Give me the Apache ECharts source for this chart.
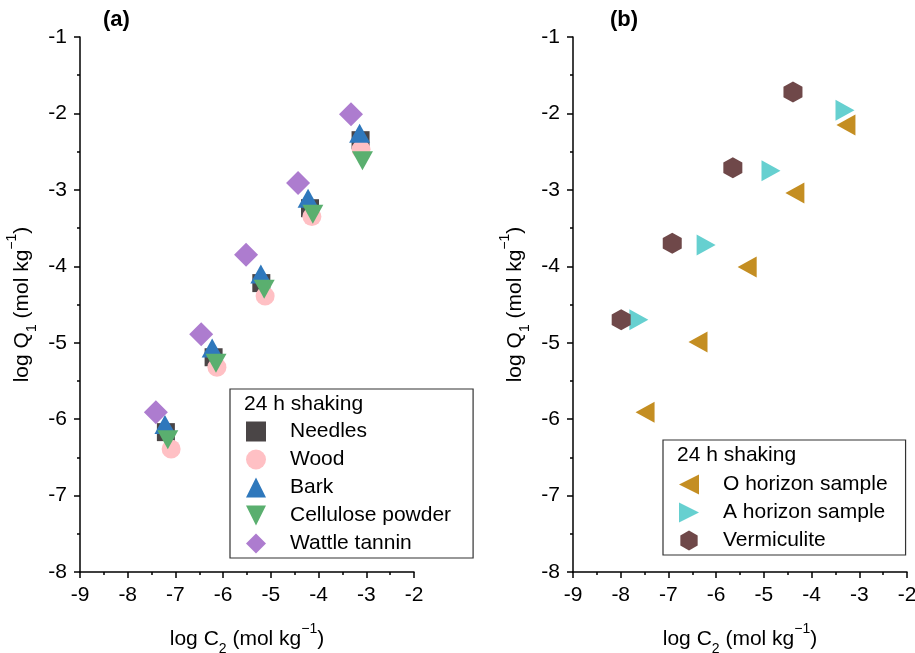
<!DOCTYPE html>
<html>
<head>
<meta charset="utf-8">
<script src="https://cdn.jsdelivr.net/npm/echarts@6/dist/echarts.min.js"></script>
<style>
  html, body { margin: 0; padding: 0; background: #fff; }
  #chart { width: 915px; height: 653px; }
</style>
</head>
<body>
<div id="chart"></div>
<script>
// panel (a): log C2 / log Q1 pairs
const needles = [[-7.2, -6.17], [-6.2, -5.19], [-5.2, -4.22], [-4.18, -3.24], [-3.12, -2.35]]
const wood = [[-7.09, -6.39], [-6.13, -5.32], [-5.12, -4.39], [-4.14, -3.35], [-3.11, -2.47]]
const bark = [[-7.22, -6.07], [-6.23, -5.07], [-5.21, -4.1], [-4.22, -3.11], [-3.14, -2.26]]
const cellulose = [[-7.16, -6.27], [-6.15, -5.27], [-5.14, -4.3], [-4.12, -3.32], [-3.08, -2.62]]
const wattle = [[-7.41, -5.91], [-6.46, -4.89], [-5.52, -3.85], [-4.43, -2.91], [-3.32, -2.01]]

// panel (b)
const oHorizon = [[-7.49, -5.91], [-6.38, -4.99], [-5.35, -4.01], [-4.35, -3.04], [-3.28, -2.15]]
const aHorizon = [[-7.62, -4.7], [-6.21, -3.72], [-4.85, -2.75], [-3.3, -1.96]]
const vermiculite = [[-7.99, -4.7], [-6.92, -3.7], [-5.65, -2.71], [-4.39, -1.72]]

const xTicks = { min: -9, max: -2, interval: 1 }
const yTicks = { min: -8, max: -1, interval: 1 }

const FONT = 'Liberation Sans'
const FS = 21
const hexagon = 'path://M0,-10 L8.66,-5 L8.66,5 L0,10 L-8.66,5 L-8.66,-5 Z'
const triDown = 'path://M-1,-1 L1,-1 L0,1 Z'
const triLeft = 'path://M-1,0 L1,-1 L1,1 Z'
const triRight = 'path://M1,0 L-1,-1 L-1,1 Z'

const richName = {
  n: { fontSize: FS, fontFamily: FONT, color: '#000', lineHeight: 28, verticalAlign: 'middle' },
  sub: { fontSize: 14, fontFamily: FONT, color: '#000', lineHeight: 28, verticalAlign: 'bottom', padding: [0, 0, -3, 0] },
  sup: { fontSize: 14, fontFamily: FONT, color: '#000', lineHeight: 28, verticalAlign: 'top', padding: [-3, 0, 0, 0] }
}

function xAxisFor(gridIndex) {
  return {
    gridIndex,
    type: 'value',
    min: xTicks.min,
    max: xTicks.max,
    interval: xTicks.interval,
    name: '{n|log C}{sub|2}{n| (mol kg}{sup|−1}{n|)}',
    nameLocation: 'middle',
    nameGap: 53,
    nameTextStyle: { rich: richName },
    axisLine: { onZero: false, lineStyle: { color: '#000', width: 1.5 } },
    axisTick: { inside: false, length: 6, lineStyle: { color: '#000', width: 1.5 } },
    minorTick: { show: true, splitNumber: 2, length: 3, lineStyle: { color: '#000', width: 1.5 } },
    axisLabel: { color: '#000', fontSize: FS, fontFamily: FONT, margin: 13 },
    splitLine: { show: false }
  }
}

function yAxisFor(gridIndex) {
  return {
    gridIndex,
    type: 'value',
    min: yTicks.min,
    max: yTicks.max,
    interval: yTicks.interval,
    name: '{n|log Q}{sub|1}{n| (mol kg}{sup|−1}{n|)}',
    nameLocation: 'middle',
    nameRotate: 90,
    nameGap: 44,
    nameTextStyle: { rich: richName },
    axisLine: { onZero: false, lineStyle: { color: '#000', width: 1.5 } },
    axisTick: { inside: false, length: 6, lineStyle: { color: '#000', width: 1.5 } },
    minorTick: { show: true, splitNumber: 2, length: 3, lineStyle: { color: '#000', width: 1.5 } },
    axisLabel: { color: '#000', fontSize: FS, fontFamily: FONT, margin: 13 },
    splitLine: { show: false }
  }
}

function scatter(name, data, idx, symbol, size, color) {
  return {
    name,
    type: 'scatter',
    xAxisIndex: idx,
    yAxisIndex: idx,
    data,
    symbol,
    symbolSize: size,
    itemStyle: { color, opacity: 1 },
    emphasis: { disabled: true }
  }
}

const legendBase = {
  orient: 'vertical',
  itemWidth: 20,
  itemHeight: 20,
  itemGap: 7,
  borderColor: '#333',
  borderWidth: 1.2,
  borderRadius: 0,
  textStyle: { fontSize: FS, fontFamily: FONT, color: '#000', padding: [0, 0, 0, 19] },
  selectedMode: false
}

const chart = echarts.init(document.getElementById('chart'), null, { renderer: 'canvas' })
chart.setOption({
  backgroundColor: '#fff',
  animation: false,
  grid: [
    { left: 80, top: 37, width: 334, height: 535, outerBoundsMode: 'none', containLabel: false },
    { left: 573, top: 37, width: 334, height: 535, outerBoundsMode: 'none', containLabel: false }
  ],
  xAxis: [xAxisFor(0), xAxisFor(1)],
  yAxis: [yAxisFor(0), yAxisFor(1)],
  legend: [
    Object.assign({}, legendBase, {
      data: ['Needles', 'Wood', 'Bark', 'Cellulose powder', 'Wattle tannin'],
      left: 230, top: 389,
      padding: [32, 22, 4, 16]
    }),
    Object.assign({}, legendBase, {
      data: ['O horizon sample', 'A horizon sample', 'Vermiculite'],
      left: 663, top: 440,
      padding: [34, 18, 4, 16]
    })
  ],
  graphic: [
    { type: 'text', left: 103, top: 9, style: { text: '(a)', fontSize: 22, fontWeight: 'bold', fontFamily: FONT, fill: '#000' } },
    { type: 'text', left: 610, top: 9, style: { text: '(b)', fontSize: 22, fontWeight: 'bold', fontFamily: FONT, fill: '#000' } },
    { type: 'text', left: 244, top: 394, style: { text: '24 h shaking', fontSize: FS, fontFamily: FONT, fill: '#000' } },
    { type: 'text', left: 677, top: 445, style: { text: '24 h shaking', fontSize: FS, fontFamily: FONT, fill: '#000' } }
  ],
  series: [
    scatter('Needles', needles, 0, 'rect', 18, '#4a4546'),
    scatter('Wood', wood, 0, 'circle', 19, '#ffc0c4'),
    scatter('Bark', bark, 0, 'triangle', [21, 19], '#2f78bc'),
    scatter('Cellulose powder', cellulose, 0, triDown, [21, 19], '#5aaf6f'),
    scatter('Wattle tannin', wattle, 0, 'diamond', 24, '#ad7ccf'),
    scatter('O horizon sample', oHorizon, 1, triLeft, [19, 21], '#c48e22'),
    scatter('A horizon sample', aHorizon, 1, triRight, [19, 21], '#66d0d0'),
    scatter('Vermiculite', vermiculite, 1, hexagon, [19, 21], '#6f4849')
  ]
})
</script>
</body>
</html>
